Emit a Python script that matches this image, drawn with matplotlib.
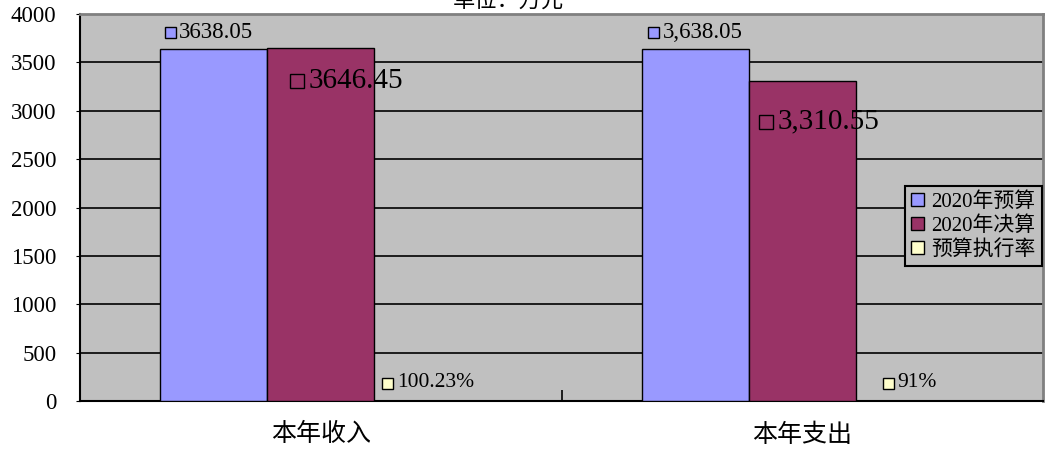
import matplotlib
matplotlib.use('Agg')
import matplotlib.pyplot as plt
import matplotlib.transforms as mtransforms
from matplotlib.patches import Patch
import numpy as np

plt.rcParams['font.family'] = ['Liberation Serif', 'Noto Sans CJK SC']

# data
categories = ['本年收入', '本年支出']
series_names = ['2020年预算', '2020年决算', '预算执行率']
budget = [3638.05, 3638.05]
final = [3646.45, 3310.55]
rate = [1.0023, 0.91]
budget_labels = ['3638.05', '3,638.05']
final_labels = ['3646.45', '3,310.55']
rate_labels = ['100.23%', '91%']

colors = ['#9999FF', '#993366', '#FFFFCC']

fig = plt.figure(figsize=(10.49, 4.57), dpi=100)
ax = fig.add_axes([80 / 1049, 1 - 401 / 457, 963 / 1049, 387 / 457])
ax.set_facecolor('#C0C0C0')

x = np.arange(len(categories))
w = 2 / 9
for i, vals in enumerate([budget, final, rate]):
    ax.bar(x + (i - 1) * w, vals, w, color=colors[i], edgecolor='black',
           linewidth=1, zorder=3)

ax.set_xlim(-0.5, 1.5)
ax.set_ylim(0, 4000)
ax.set_yticks(range(0, 4001, 500))
ax.yaxis.grid(True, color='black', linewidth=1.2, zorder=1)
ax.set_axisbelow(True)
ax.tick_params(axis='y', labelsize=16.5, length=3, pad=14)
ax.set_xticks(x)
ax.set_xticklabels(categories, fontsize=18)
ax.tick_params(axis='x', which='major', length=0, pad=16)
ax.set_xticks([0.5], minor=True)
ax.tick_params(axis='x', which='minor', direction='in', length=8, width=1.2)

for s in ['left', 'bottom']:
    ax.spines[s].set_color('black')
    ax.spines[s].set_linewidth(1.5)
for s in ['top', 'right']:
    ax.spines[s].set_color('#808080')
    ax.spines[s].set_linewidth(2)

fig.text(0.485, 0.995, '单位：万元', ha='center', va='center', fontsize=16)

renderer = fig.canvas.get_renderer()


def put_label(xc, top, text, color, dx, dy, size, key):
    t = ax.text(xc, top, text, fontsize=size, ha='left', va='center', zorder=5)
    tw = t.get_window_extent(renderer).width
    total = key + 4 + tw
    left = dx - total / 2
    t.set_transform(ax.transData + mtransforms.ScaledTranslation(
        (left + key + 4) / 100, dy / 100, fig.dpi_scale_trans))
    ax.plot([xc], [top], marker='s', ms=key * 0.72, mfc=color, mec='black',
            mew=1, clip_on=False, zorder=5,
            transform=ax.transData + mtransforms.ScaledTranslation(
                (left + key / 2) / 100, dy / 100, fig.dpi_scale_trans))


# label offsets in pixels (dx, dy) from bar top centre
budget_off = [(-5, 17), (0, 17)]
final_off = [(26, -33), (17, -41)]
rate_off = [(0, 18), (0, 18)]

for j in range(len(categories)):
    put_label(x[j] - w, budget[j], budget_labels[j], colors[0],
              budget_off[j][0], budget_off[j][1], 16.5, 11)
    put_label(x[j], final[j], final_labels[j], colors[1],
              final_off[j][0], final_off[j][1], 21, 14)
    put_label(x[j] + w, rate[j], rate_labels[j], colors[2],
              rate_off[j][0], rate_off[j][1], 15.5, 11)

handles = [Patch(facecolor=c, edgecolor='black', linewidth=1) for c in colors]
leg = fig.legend(handles, series_names, loc='upper left',
                 bbox_to_anchor=(905 / 1049, 1 - 186 / 457),
                 bbox_transform=fig.transFigure, borderaxespad=0,
                 fontsize=15, handlelength=0.6, handleheight=0.6,
                 handletextpad=0.35, labelspacing=0.2, borderpad=0.3,
                 fancybox=False, framealpha=1, facecolor='#C0C0C0',
                 edgecolor='black')
leg.get_frame().set_linewidth(1.5)

fig.savefig('out.png', dpi=100)
